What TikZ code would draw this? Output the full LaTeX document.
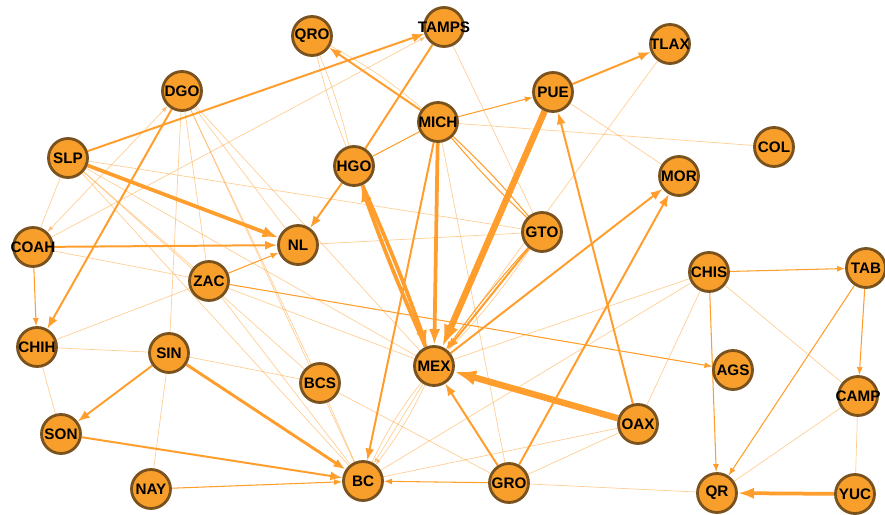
\documentclass[tikz,border=0pt]{standalone}
\usepackage{fontspec}
\setmainfont{Liberation Sans}
\usetikzlibrary{arrows.meta,backgrounds}
\definecolor{stateorange}{RGB}{248,158,42}
\definecolor{stateborder}{RGB}{122,82,30}
\definecolor{flowline}{RGB}{255,158,44}
\newcommand{\abbr}[1]{\makebox[0pt]{#1}}

\begin{document}
\begin{tikzpicture}[
  x=0.03cm,y=-0.03cm,>=Latex,
  state/.style={circle,draw=stateborder,line width=2.4pt,fill=stateorange,
                minimum size=1.17cm,inner sep=0pt,font=\bfseries\fontsize{13}{13}\selectfont},
  faint/.style={draw=flowline,line width=0.6pt,opacity=0.5},
  lflow/.style={-{Latex[length=2.4mm,width=1.8mm]},draw=flowline,line width=0.9pt},
  mflow/.style={-{Latex[length=3.6mm,width=2.7mm]},draw=flowline,line width=1.7pt},
  bflow/.style={-{Latex[length=4.8mm,width=3.4mm]},draw=flowline,line width=3.2pt},
  hflow/.style={-{Latex[length=6.6mm,width=4.6mm]},draw=flowline,line width=5.5pt}
]
\useasboundingbox (0,0) rectangle (885,515);
% ---------- north
\node[state] (QRO)   at (312,36)  {\abbr{QRO}};
\node[state] (TAMPS) at (444,27)  {\abbr{TAMPS}};
\node[state] (TLAX)  at (670,44)  {\abbr{TLAX}};
\node[state] (DGO)   at (182,91)  {\abbr{DGO}};
\node[state] (PUE)   at (553,92)  {\abbr{PUE}};
\node[state] (MICH)  at (438,122) {\abbr{MICH}};
\node[state] (COL)   at (774,147) {\abbr{COL}};
\node[state] (SLP)   at (68,158)  {\abbr{SLP}};
\node[state] (HGO)   at (354,166) {\abbr{HGO}};
\node[state] (MOR)   at (679,176) {\abbr{MOR}};
% ---------- middle
\node[state] (GTO)   at (542,232) {\abbr{GTO}};
\node[state] (COAH)  at (33,247)  {\abbr{COAH}};
\node[state] (NL)    at (298,245) {\abbr{NL}};
\node[state] (ZAC)   at (209,281) {\abbr{ZAC}};
\node[state] (CHIS)  at (709,272) {\abbr{CHIS}};
\node[state] (TAB)   at (866,268) {\abbr{TAB}};
\node[state] (CHIH)  at (37,347)  {\abbr{CHIH}};
\node[state] (SIN)   at (169,353) {\abbr{SIN}};
\node[state] (MEX)   at (434,366) {\abbr{MEX}};
\node[state] (AGS)   at (733,370) {\abbr{AGS}};
\node[state] (BCS)   at (320,383) {\abbr{BCS}};
\node[state] (CAMP)  at (858,396) {\abbr{CAMP}};
% ---------- south
\node[state] (OAX)   at (638,424) {\abbr{OAX}};
\node[state] (SON)   at (61,434)  {\abbr{SON}};
\node[state] (NAY)   at (151,489) {\abbr{NAY}};
\node[state] (BC)    at (363,481) {\abbr{BC}};
\node[state] (GRO)   at (509,483) {\abbr{GRO}};
\node[state] (QR)    at (717,493) {\abbr{QR}};
\node[state] (YUC)   at (855,494) {\abbr{YUC}};
% ---------- flows
\begin{scope}[on background layer]
  % faint web
  \draw[faint] (DGO) -- (SIN);   \draw[faint] (DGO) -- (ZAC);   \draw[faint] (DGO) -- (NL);
  \draw[faint] (DGO) -- (BCS);   \draw[faint] (DGO) -- (MEX);   \draw[faint] (DGO) -- (BC);
  \draw[faint] (SLP) -- (COAH);  \draw[faint] (SLP) -- (GTO);   \draw[faint] (SLP) -- (ZAC);
  \draw[faint] (SLP) -- (BCS);   \draw[faint] (SLP) -- (MEX);   \draw[faint] (SLP) -- (BC);
  \draw[faint,{Latex[length=1.8mm]}-{Latex[length=1.8mm]}] (COAH) -- (DGO);
  \draw[faint,-{Latex[length=1.8mm]}] (COAH) -- (TAMPS);
  \draw[faint] (COAH) -- (ZAC);  \draw[faint] (CHIH) -- (ZAC);  \draw[faint] (CHIH) -- (SIN);
  \draw[faint] (CHIH) -- (SON);  \draw[faint] (SIN) -- (NAY);   \draw[faint] (SIN) -- (BCS);
  \draw[faint] (BCS) -- (BC);    \draw[faint] (BCS) -- (GRO);   \draw[faint] (ZAC) -- (MEX);
  \draw[faint] (ZAC) -- (BC);    \draw[faint] (NL) -- (GTO);    \draw[faint] (TAMPS) -- (GTO);
  \draw[faint] (QRO) to[bend left=4] (HGO);  \draw[faint] (QRO) to[bend right=4] (HGO);
  \draw[faint] (QRO) to[bend left=6] (MICH);
  \draw[faint] (MICH) -- (COL);  \draw[faint] (PUE) -- (MOR);   \draw[faint] (TLAX) -- (MEX);
  \draw[faint] (MICH) -- (GRO);  \draw[faint] (CHIS) -- (MEX);  \draw[faint] (CHIS) -- (BC);
  \draw[faint,-{Latex[length=1.6mm]}] (MEX) -- (BC);
  \draw[faint,-{Latex[length=1.6mm]}] (MEX) to[bend left=6] (BC);
  \draw[faint] (MEX) to[bend right=6] (BC);
  \draw[faint] (CHIS) -- (OAX);  \draw[faint] (CHIS) -- (CAMP); \draw[faint] (CAMP) -- (QR);
  \draw[faint] (CAMP) -- (YUC);  \draw[faint] (OAX) -- (BC);    \draw[faint] (OAX) -- (GRO);
  \draw[faint] (GRO) -- (QR);    \draw[faint] (GTO) to[bend left=4] (MEX);
  % light flows
  \draw[lflow] (COAH) -- (CHIH); \draw[lflow] (ZAC) -- (NL);    \draw[lflow] (NAY) -- (BC);
  \draw[lflow] (GRO) -- (BC);    \draw[lflow] (CHIS) -- (TAB);  \draw[lflow] (CHIS) -- (QR);
  \draw[lflow] (TAB) -- (QR);    \draw[lflow] (TAB) -- (CAMP);  \draw[lflow] (ZAC) -- (AGS);
  \draw[lflow] (MICH) -- (PUE);  \draw[lflow,-] (HGO) -- (MICH);
  \draw[lflow,-] (MICH) to[bend left=3] (GTO); \draw[lflow,-] (MICH) to[bend right=3] (GTO);
  \draw[lflow] (GTO) to[bend right=3] (MEX);
  % medium flows
  \draw[mflow] (SLP) -- (TAMPS); \draw[mflow] (DGO) -- (CHIH);  \draw[mflow] (COAH) -- (NL);
  \draw[mflow] (HGO) -- (NL);    \draw[mflow,-] (HGO) -- (TAMPS);
  \draw[mflow] (MICH) -- (BC);   \draw[mflow] (MICH) -- (QRO);  \draw[mflow] (PUE) -- (TLAX);
  \draw[mflow] (MEX) -- (MOR);   \draw[mflow] (GRO) -- (MOR);   \draw[mflow] (OAX) -- (PUE);
  \draw[mflow] (GRO) -- (MEX);   \draw[mflow] (GTO) -- (MEX);
  \draw[mflow] (SIN) -- (SON);   \draw[mflow] (SON) -- (BC);
  \draw[mflow,line width=2.5pt] (SIN) -- (BC);
  % heavy flows
  \draw[bflow] (SLP) -- (NL);    \draw[bflow] (MICH) -- (MEX);  \draw[bflow] (YUC) -- (QR);
  \draw[bflow] (MEX) to[bend left=2] (HGO);
  \draw[bflow] (HGO) to[bend left=2] (MEX);
  \draw[hflow] (OAX) -- (MEX);   \draw[hflow] (PUE) -- (MEX);
\end{scope}
\end{tikzpicture}
\end{document}
